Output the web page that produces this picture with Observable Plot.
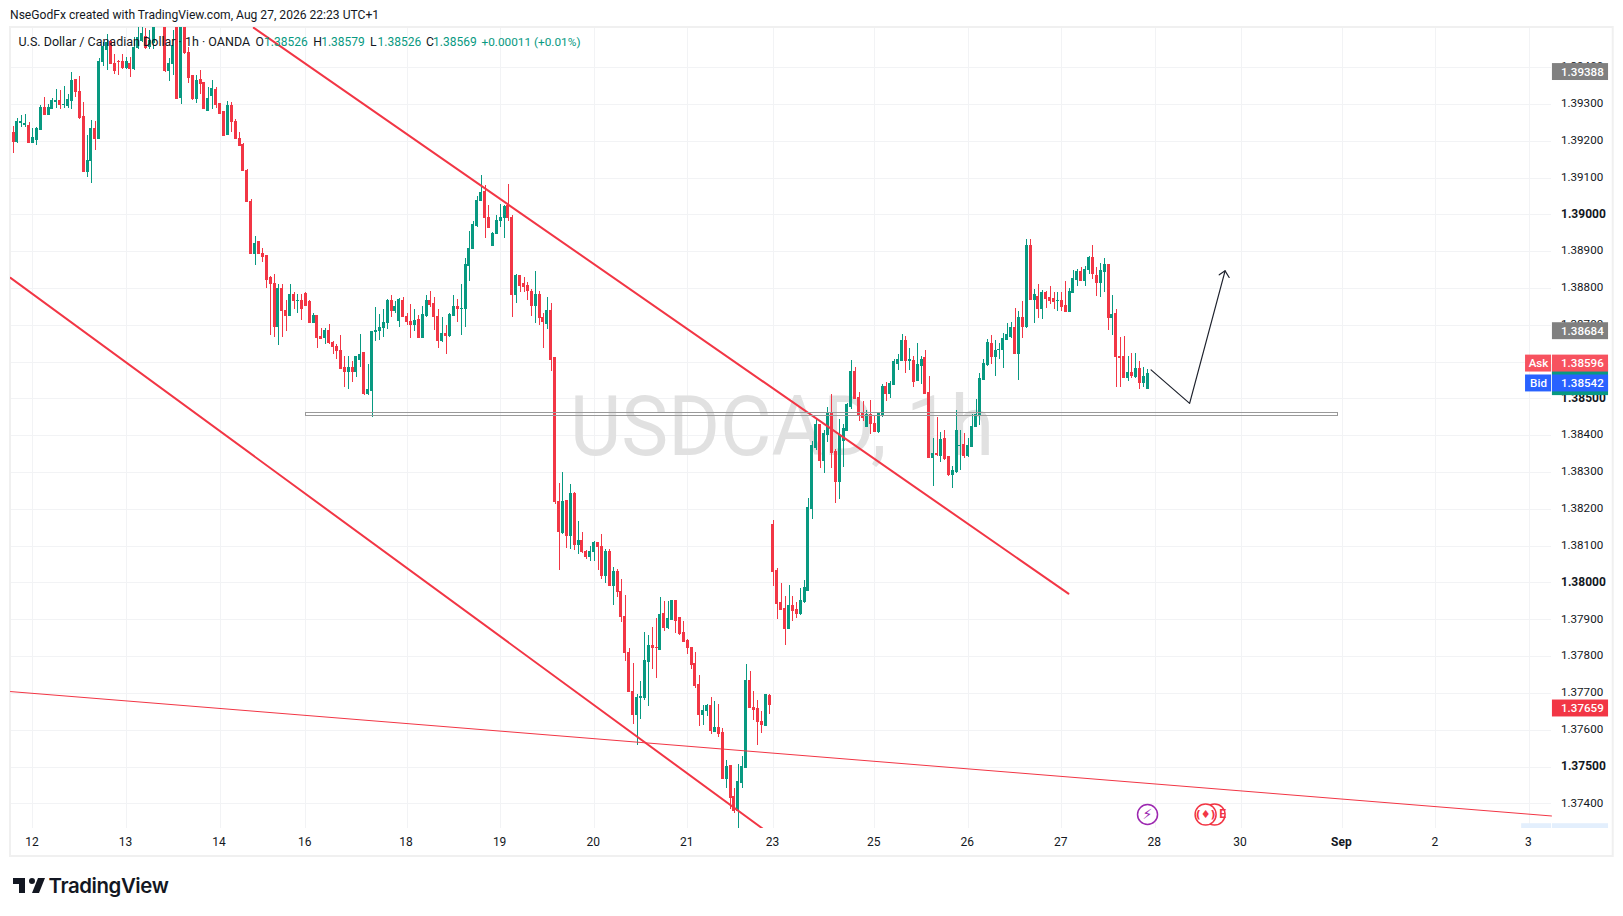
<!DOCTYPE html>
<html><head><meta charset="utf-8">
<script src="https://cdn.jsdelivr.net/npm/d3@7"></script>
<script src="https://cdn.jsdelivr.net/npm/@observablehq/plot@0.6"></script>
<style>
html,body{margin:0;padding:0;background:#fff;overflow:hidden}
#head{height:25px;line-height:30px;padding-left:10px;font:12.1px/30px Roboto,sans-serif;color:#131722;white-space:nowrap}
#foot{position:relative;height:58px}
#foot svg{position:absolute;left:10.5px;top:14px}
#foot span{position:absolute;left:48.5px;top:14px;font:600 20.4px/28px Inter,Roboto,sans-serif;color:#131722;letter-spacing:-0.4px}
svg{display:block}
</style></head><body>
<div id="head">NseGodFx created with TradingView.com, Aug 27, 2026 22:23 UTC+1</div>
<div id="chart"></div>
<div id="foot"><svg width="36" height="28" viewBox="0 0 36 28"><path fill="#131722" d="M14 6H2v6h6v9h6V6zm14 15h-7l6-15h7l-6 15zm-7-9a3 3 0 1 0 0-6 3 3 0 0 0 0 6z"/></svg><span>TradingView</span></div>
<script>
// prices are stored as 1e-5 steps above 1.37000
const opens=[2223,2197,2249,2245,2241,2194,2204,2230,2289,2272,
2287,2306,2310,2298,2297,2310,2367,2335,2267,2116,
2145,2234,2207,2414,2449,2469,2410,2416,2416,2400,
2411,2395,2454,2473,2482,2455,2466,2530,2580,2545,
2390,2410,2515,2317,2520,2441,2376,2315,2367,2358,
2283,2324,2340,2301,2280,2216,2297,2251,2207,2191,
2120,2036,1894,1925,1894,1887,1828,1813,1695,1798,
1740,1726,1781,1765,1767,1785,1762,1705,1724,1669,
1666,1685,1653,1642,1631,1584,1572,1584,1572,1607,
1624,1513,1522,1681,1685,1693,1705,1767,1738,1713,
1767,1723,1710,1702,1715,1665,1726,1767,1759,1723,
1658,1677,1672,1726,1751,1743,1743,1860,1908,1971,
2037,2063,1992,1916,1947,1982,1991,2025,1992,1783,
1835,1812,1808,1791,1753,1781,1719,1703,1740,1611,
1221,1137,1222,1127,1243,1104,1115,1085,1070,1085,
1108,1099,1020,1085,991,1031,975,908,811,705,
642,687,688,784,830,824,819,917,879,900,
952,906,865,843,822,781,724,642,653,667,
596,607,593,468,504,419,381,457,498,735,
661,658,623,612,694,1158,1033,946,930,876,
938,927,917,949,979,1202,1368,1430,1332,1403,
1463,1357,1275,1387,1414,1479,1574,1503,1460,1425,
1455,1433,1411,1457,1533,1514,1539,1596,1604,1658,
1604,1604,1550,1590,1612,1517,1340,1351,1346,1392,
1343,1294,1302,1371,1376,1346,1370,1425,1455,1552,
1593,1650,1615,1632,1634,1661,1669,1694,1623,1721,
1696,1916,1770,1778,1745,1789,1775,1772,1765,1767,
1753,1737,1789,1824,1846,1821,1851,1884,1835,1816,
1846,1865,1721,1732,1615,1615,1558,1571,1560,1582,1544,1526];
const closes=[2197,2251,2253,2247,2194,2210,2234,2289,2272,2289,
2308,2308,2299,2299,2312,2365,2335,2264,2116,2147,
2234,2207,2416,2455,2466,2410,2392,2414,2400,2414,
2395,2454,2480,2490,2454,2473,2530,2580,2545,2390,
2410,2459,2315,2520,2439,2373,2315,2365,2356,2287,
2316,2343,2298,2274,2213,2296,2251,2205,2188,2120,
2034,1894,1922,1894,1885,1824,1812,1695,1798,1738,
1726,1781,1767,1767,1745,1753,1705,1724,1666,1664,
1685,1651,1642,1629,1582,1572,1584,1572,1613,1620,
1513,1524,1683,1685,1693,1707,1767,1738,1751,1770,
1722,1708,1702,1713,1665,1729,1767,1756,1723,1657,
1677,1670,1729,1751,1743,1745,1865,1908,1973,2039,
2060,1991,1963,1949,1984,1992,2022,1991,1783,1835,
1808,1805,1792,1753,1783,1719,1708,1740,1607,1219,
1139,1221,1127,1243,1104,1115,1083,1071,1085,1108,
1097,1018,1085,991,1031,975,907,809,705,642,
688,691,789,830,822,822,914,879,903,950,
898,862,840,822,778,721,642,653,667,599,
607,591,468,501,417,381,459,501,735,661,
656,623,615,697,669,1031,944,927,876,938,
925,917,952,985,1205,1373,1430,1332,1406,1463,
1354,1273,1400,1417,1484,1574,1501,1455,1449,1457,
1433,1411,1460,1533,1514,1541,1599,1607,1658,1604,
1606,1547,1593,1607,1514,1340,1351,1349,1389,1338,
1294,1305,1414,1373,1346,1373,1425,1455,1555,1596,
1653,1615,1631,1634,1664,1675,1694,1623,1721,1696,
1916,1770,1781,1745,1789,1772,1767,1762,1767,1751,
1737,1791,1827,1846,1821,1851,1884,1838,1816,1848,
1865,1721,1729,1615,1612,1558,1571,1563,1582,1544,1560,1569];
const highs=[2240,2263,2271,2272,2250,2235,2238,2296,2318,2299,
2315,2340,2337,2348,2328,2386,2367,2377,2305,2215,
2256,2254,2424,2469,2491,2473,2435,2419,2435,2428,
2428,2482,2520,2515,2505,2500,2540,2600,2600,2560,
2424,2500,2530,2530,2530,2455,2376,2378,2392,2360,
2345,2365,2345,2301,2280,2308,2304,2259,2223,2195,
2122,2043,1941,1928,1908,1887,1833,1838,1810,1810,
1767,1812,1790,1785,1783,1790,1767,1733,1726,1690,
1690,1702,1657,1649,1672,1615,1615,1602,1615,1675,
1626,1593,1683,1747,1729,1744,1771,1781,1765,1774,
1776,1731,1756,1742,1726,1751,1781,1791,1776,1742,
1722,1699,1731,1781,1771,1812,1881,1954,1982,2050,
2107,2079,2025,1953,1998,2027,2025,2082,1998,1838,
1835,1830,1817,1797,1846,1791,1731,1775,1759,1611,
1269,1299,1224,1267,1245,1167,1136,1088,1099,1112,
1110,1131,1092,1092,1041,1037,1009,966,822,782,
697,732,865,857,879,903,960,949,949,952,
952,906,895,846,824,811,748,667,669,688,
678,669,604,517,504,441,508,528,778,759,
705,680,650,698,698,1169,1038,998,963,993,
963,946,984,1006,1229,1385,1445,1430,1414,1476,
1512,1363,1444,1430,1487,1604,1585,1517,1493,1468,
1495,1455,1463,1539,1544,1548,1607,1620,1675,1669,
1637,1615,1650,1615,1631,1560,1392,1449,1408,1414,
1343,1316,1468,1414,1406,1392,1457,1498,1569,1606,
1661,1672,1658,1650,1677,1704,1707,1745,1737,1764,
1933,1933,1797,1810,1794,1791,1805,1789,1789,1789,
1819,1800,1848,1851,1857,1859,1887,1916,1857,1867,
1881,1865,1781,1743,1666,1669,1615,1623,1623,1601,1585,1579];
const lows=[2167,2193,2238,2238,2194,2194,2189,2230,2270,2270,
2287,2290,2287,2289,2288,2285,2319,2260,2116,2102,
2084,2174,2204,2404,2392,2408,2381,2378,2396,2394,
2374,2392,2450,2469,2449,2449,2449,2520,2525,2387,
2362,2378,2313,2299,2437,2356,2310,2303,2328,2287,
2280,2285,2289,2272,2213,2215,2224,2205,2186,2118,
2034,1892,1862,1892,1871,1801,1672,1666,1645,1667,
1684,1726,1744,1733,1713,1751,1705,1705,1637,1664,
1649,1649,1622,1608,1580,1532,1525,1545,1559,1586,
1509,1509,1450,1657,1660,1667,1688,1722,1731,1695,
1722,1699,1665,1683,1665,1665,1722,1749,1687,1637,
1654,1620,1667,1726,1708,1672,1695,1818,1905,1966,
2037,1936,1963,1914,1947,1966,1936,1982,1722,1759,
1790,1790,1767,1724,1705,1699,1637,1688,1574,1213,
1035,1131,1095,1090,1088,1077,1081,1065,1059,1059,
1033,1009,999,991,938,961,893,787,703,615,
558,630,680,664,766,740,819,868,873,900,
862,857,838,805,766,713,610,614,637,588,
596,581,466,441,384,374,332,441,498,661,
626,558,591,610,642,990,900,925,830,876,
895,903,911,944,979,1172,1359,1311,1298,1382,
1311,1215,1226,1313,1414,1472,1498,1438,1438,1425,
1403,1411,1406,1449,1493,1501,1536,1577,1604,1569,
1577,1531,1547,1539,1514,1340,1262,1343,1327,1332,
1289,1256,1297,1305,1338,1340,1368,1422,1427,1550,
1588,1593,1560,1607,1582,1658,1664,1623,1550,1664,
1691,1770,1704,1718,1715,1745,1756,1743,1737,1737,
1734,1737,1789,1805,1819,1805,1838,1824,1778,1775,
1789,1685,1672,1531,1531,1558,1547,1555,1555,1525,1531,1526];

const priceTicks=[1.374,1.375,1.376,1.377,1.378,1.379,1.38,1.381,1.382,1.383,1.384,1.385,1.386,1.387,1.388,1.389,1.39,1.391,1.392,1.393,1.394];
const boldTicks=[1.375,1.38,1.385,1.39];
const dateTicks=[5,29,53,75,101,125,149,173,195,221,245,269,293,315,341,365,389];
const dateLabels=["12","13","14","16","18","19","20","21","23","25","26","27","28","30","Sep","2","3"];
const upperChannel=[[61.66,2508],[270.7,971]];
const lowerChannel=[[-0.77,1829],[192.2,333]];
const supportLine=[[-0.77,705],[394.66,367]];
const zone={i1:75,i2:340,top:1461,bottom:1454};
const forecastPath=[[291.9,1579],[301.8,1488],[310.9,1848]];
const forecastHead=[[309.4,1837],[310.9,1848],[311.95,1830]];
const greyTags=[1.39388,1.38684];
const askValue=1.38596, bidValue=1.38542, lastRedValue=1.37659;

const P=v=>1.37+v/1e5;
const GREEN="#089981",RED="#f23645",INK="#131722",GRID="#f2f3f5";
const FONT="Roboto, sans-serif",FS=11.6;
const candles=opens.map((o,i)=>({i,o:P(o),c:P(closes[i]),h:P(highs[i]),l:P(lows[i])}));
const ups=candles.filter(d=>d.c>=d.o),downs=candles.filter(d=>d.c<d.o);
const paneRight=394.66,tagL=394.9,tagR=409.3,sideL=388,axisText=397.1;
const fmt=d3.format(".5f");
const seg=(pts,opt)=>Plot.line(pts,{x:d=>d[0],y:d=>P(d[1]),...opt});
const candleMarks=(rows,fill)=>[
  Plot.ruleX(rows,{x:"i",y1:"l",y2:"h",stroke:fill,strokeWidth:1,clip:true,shapeRendering:"crispEdges"}),
  Plot.rect(rows,{x1:d=>d.i-0.385,x2:d=>d.i+0.385,y1:d=>Math.min(d.o,d.c),y2:d=>Math.max(d.o,d.c),insetTop:-0.5,insetBottom:-0.5,fill,clip:true,shapeRendering:"crispEdges"})
];
const tag=(v,label,fill,half=23)=>[
  Plot.rect([v],{x1:tagL,x2:tagR,y1:d=>d-half/1e5,y2:d=>d+half/1e5,fill}),
  Plot.text([v],{x:axisText,y:d=>d,text:()=>fmt(v),fill:"#fff",textAnchor:"start",fontSize:FS,fontFamily:FONT,fontWeight:500})
];
const sideTag=(v,label,fill)=>[
  Plot.rect([v],{x1:sideL,x2:paneRight,y1:d=>d-23/1e5,y2:d=>d+23/1e5,fill}),
  Plot.text([v],{x:(sideL+paneRight)/2,y:d=>d,text:()=>label,fill:"#fff",fontSize:FS,fontFamily:FONT,fontWeight:500})
];
const legendItems=[
  ["U.S. Dollar / Canadian Dollar · 1h · OANDA",8,INK,12.5],["O",245,INK,12.2],["1.38526",253.5,GREEN,12],
  ["H",302.7,INK,12.2],["1.38579",310.7,GREEN,12],["L",359.5,INK,12.2],["1.38526",367,GREEN,12],
  ["C",415.6,INK,12.2],["1.38569",422.5,GREEN,12],["+0.00011 (+0.01%)",471,GREEN,11.8]
];
const legendMarks=legendItems.map(([t,dx,fill,fontSize])=>Plot.text([t],{frameAnchor:"top-left",textAnchor:"start",lineAnchor:"middle",dx,dy:14.7,fill,fontSize,fontFamily:FONT}));
const iconY=P(371);

const plot=Plot.plot({
  width:1623,height:833,marginLeft:10,marginRight:10,marginTop:2,marginBottom:30,
  style:{background:"#fff",overflow:"visible"},
  x:{domain:[-0.77,410.57],axis:null},
  y:{domain:[P(333),P(2509)],axis:null},
  marks:[
    Plot.ruleY(priceTicks,{x1:-0.77,x2:paneRight,stroke:GRID,strokeWidth:1,shapeRendering:"crispEdges"}),
    Plot.ruleX(dateTicks,{y1:P(333),y2:P(2509),stroke:GRID,strokeWidth:1,shapeRendering:"crispEdges"}),
    Plot.rect([0],{x1:-0.77,x2:410.5,y1:P(257),y2:P(2509),fill:"none",stroke:"#f0f0f0",strokeWidth:2}),
    Plot.text(["USDCAD, 1h"],{x:197.2,y:1.3842,fill:"#e1e1e1",fontSize:83,fontFamily:FONT}),
    ...candleMarks(ups,GREEN),
    ...candleMarks(downs,RED),
    seg(upperChannel,{stroke:RED,strokeWidth:2,clip:true}),
    seg(lowerChannel,{stroke:RED,strokeWidth:2,clip:true}),
    seg(supportLine,{stroke:RED,strokeWidth:1,clip:true}),
    Plot.rect([zone],{x1:"i1",x2:"i2",y1:d=>P(d.bottom),y2:d=>P(d.top),fill:"none",stroke:"#9a9a9a",strokeWidth:1,shapeRendering:"crispEdges"}),
    seg(forecastPath,{stroke:"#1e222d",strokeWidth:1.2}),
    seg(forecastHead,{stroke:"#1e222d",strokeWidth:1.2}),
    Plot.text(priceTicks.filter(v=>!boldTicks.includes(v)),{x:axisText,y:d=>d,dy:-1,text:fmt,textAnchor:"start",fill:INK,fontSize:FS,fontFamily:FONT}),
    Plot.text(boldTicks,{x:axisText,y:d=>d,dy:-1,text:fmt,textAnchor:"start",fill:INK,fontSize:FS+0.4,fontFamily:FONT,fontWeight:700}),
    Plot.text(dateTicks,{x:d=>d,y:P(295),dx:-1,text:(d,i)=>dateLabels[i],fill:INK,fontSize:FS+0.4,fontFamily:FONT}),
    Plot.rect([0],{x1:sideL-1,x2:paneRight,y1:P(333),y2:P(346),fill:"#e3effd"}),
    Plot.rect([0],{x1:tagL,x2:tagR,y1:P(333),y2:P(346),fill:"#e3effd"}),
    Plot.rect([0],{x1:tagL,x2:tagR,y1:P(1509),y2:P(1593),fill:GREEN}),
    ...greyTags.flatMap(v=>tag(v,null,"#808080")),
    ...tag(askValue,null,"#f7525f"),...sideTag(askValue,"Ask","#f7525f"),
    ...tag(bidValue,null,"#2962ff"),...sideTag(bidValue,"Bid","#2962ff"),
    ...tag(lastRedValue,null,RED),
    Plot.dot([291],{x:d=>d,y:iconY,r:10,fill:"#fff",stroke:"#9c27b0",strokeWidth:1.5}),
    Plot.text(["⚡"],{x:291,y:iconY,fill:"#9c27b0",fontSize:14,fontFamily:"DejaVu Sans"}),
    Plot.dot([308.2],{x:d=>d,y:iconY,r:10.5,fill:"#fff",stroke:RED,strokeWidth:1.5}),
    Plot.text(["E"],{x:310.3,y:iconY,fill:RED,fontSize:12,fontWeight:700,fontFamily:FONT}),
    Plot.dot([305.9],{x:d=>d,y:iconY,r:10.5,fill:"#fff",stroke:RED,strokeWidth:1.5}),
    Plot.text(["(♦)"],{x:305.9,y:iconY,fill:RED,fontSize:11,fontWeight:700,fontFamily:"DejaVu Sans"}),
    ...legendMarks
  ]
});
document.getElementById("chart").append(plot);
d3.select(plot).selectAll("text").each(function(){
  if(this.textContent==="USDCAD, 1h"){const t=d3.select(this).select("tspan").empty()?d3.select(this):d3.select(this).select("tspan");t.attr("textLength",424).attr("lengthAdjust","spacingAndGlyphs");}
  if(this.textContent==="Sep") d3.select(this).attr("font-weight",700);
});
</script>
</body></html>
